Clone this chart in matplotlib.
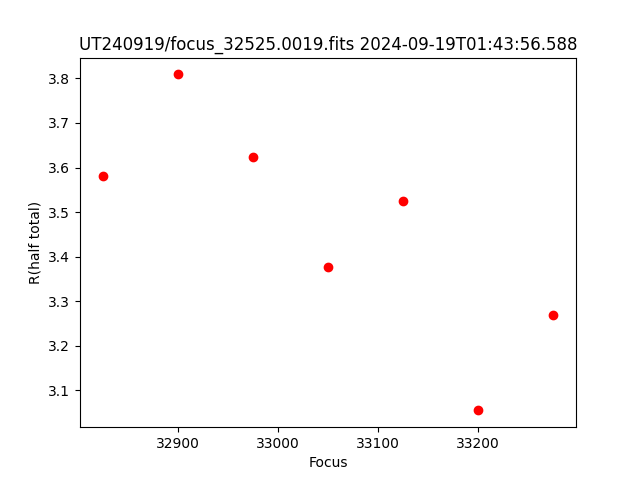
import matplotlib
matplotlib.use("Agg")
import matplotlib.pyplot as plt

focus = [32825, 32900, 32975, 33050, 33125, 33200, 33275]
r_half = [3.580, 3.809, 3.623, 3.376, 3.524, 3.055, 3.269]

fig, ax = plt.subplots(figsize=(6.4, 4.8), dpi=100)
ax.plot(focus, r_half, 'ro')
ax.set_xlabel("Focus")
ax.set_ylabel("R(half total)")
ax.set_title("UT240919/focus_32525.0019.fits 2024-09-19T01:43:56.588")
fig.savefig("out.png")
